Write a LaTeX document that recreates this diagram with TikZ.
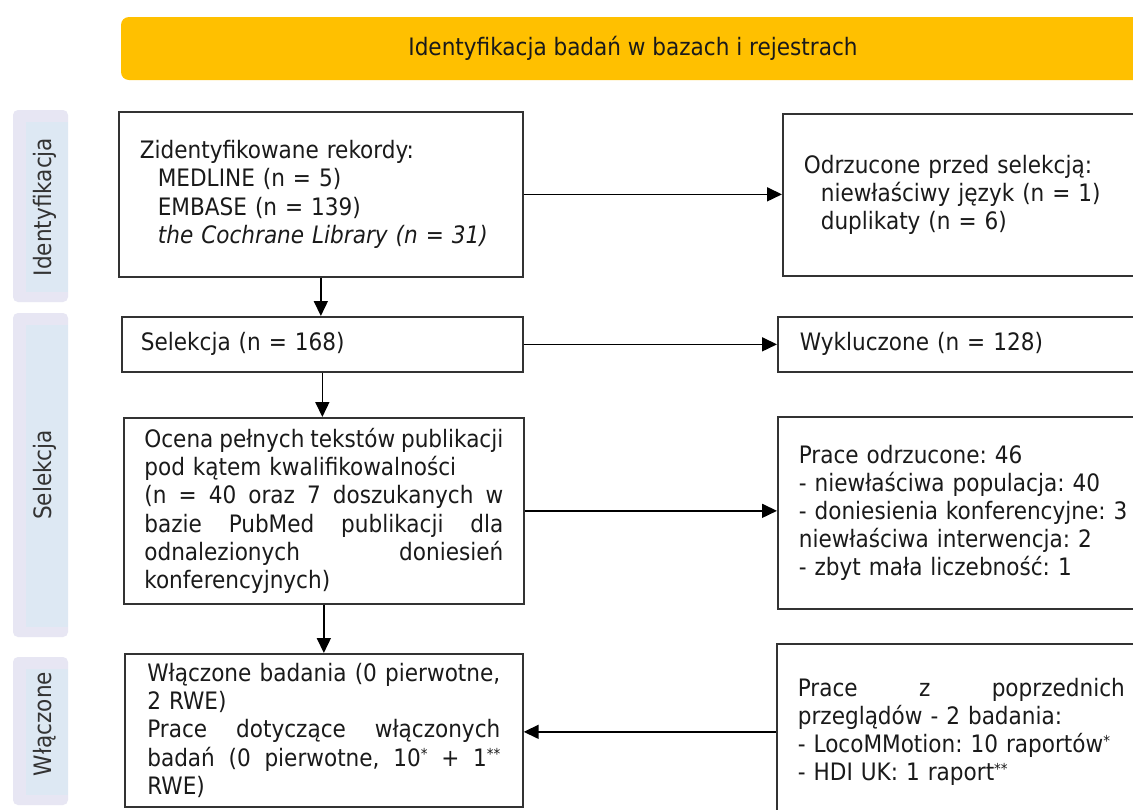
\documentclass[tikz,border=0pt]{standalone}
\usepackage{fontspec}
\setmainfont{DejaVu Sans Condensed}[ItalicFont={DejaVu Sans Condensed Oblique},BoldFont={DejaVu Sans Condensed Bold}]
\usetikzlibrary{arrows.meta}
\definecolor{hdrc}{HTML}{FFC000}
\definecolor{lavc}{HTML}{E7E6F3}
\definecolor{lblue}{HTML}{DDE8F3}
\definecolor{boxc}{HTML}{333333}
\definecolor{txtc}{HTML}{1A1A1A}
\definecolor{labtxt}{HTML}{333333}
\setlength{\parindent}{0pt}
\frenchspacing
\newcommand\jline[2]{{\spaceskip=0pt\xspaceskip=0pt\makebox[#1][s]{#2}}}
\newcommand\astsmall{\raisebox{6.5pt}{\fontsize{15}{15}\selectfont *}}
\newcommand\bodyfont{\fontsize{24}{28.2}\selectfont}
\tikzset{
  box/.style={draw=boxc, line width=1.7pt, anchor=north west, inner xsep=21pt, inner ysep=0pt,
    align=left, font=\bodyfont, text=txtc, fill=white},
  arr/.style={-{Triangle[length=15pt,width=14pt]}, line width=1.6pt, draw=black},
  hdrbox/.style={fill=hdrc, rounded corners=8pt, minimum width=1024pt, minimum height=63pt,
    inner sep=0pt, font=\bodyfont, text=txtc},
  labtext/.style={rotate=90, font=\bodyfont, text=labtxt, inner sep=0pt},
}
\begin{document}
\begin{tikzpicture}[x=1pt,y=-1pt]
\path[use as bounding box] (0,0) rectangle (1133,809);
\clip (0,0) rectangle (1133,809);
\fill[white] (0,0) rectangle (1133,809);

% header
\node[hdrbox] (hdr) at (633,48.5) {Identyfikacja badań w bazach i rejestrach};

% side labels
\fill[lavc, rounded corners=5pt] (13,110) rectangle (68,302);
\fill[lblue] (26,122) rectangle (68,292);
\node[labtext] (lab1) at (45,207) {Identyfikacja};

\fill[lavc, rounded corners=5pt] (13,313) rectangle (68,637);
\fill[lblue] (26,325) rectangle (68,627);
\node[labtext] (lab2) at (45,475) {Selekcja};

\fill[lavc, rounded corners=5pt] (13,657) rectangle (68,805);
\fill[lblue] (26,669) rectangle (68,795);
\node[labtext] (lab3) at (45,724) {Włączone};

% left column
\node[box, text width=362pt, minimum height=165pt] (b1) at (118,111) {%
Zidentyfikowane rekordy:\\
\hspace*{18pt}MEDLINE (n = 5)\\
\hspace*{18pt}EMBASE (n = 139)\\
\hspace*{18pt}\textit{the Cochrane Library (n = 31)}};

\node[box, inner xsep=19pt, text width=363pt, minimum height=55pt] (sel) at (121,316) {Selekcja (n = 168)};

\node[box, inner xsep=20.5pt, text width=359pt, minimum height=186pt] (oc) at (123,417) {%
\jline{359pt}{Ocena pełnych tekstów publikacji}\\
pod kątem kwalifikowalności\\
\jline{359pt}{(n = 40 oraz 7 doszukanych w}\\
\jline{359pt}{bazie PubMed publikacji dla}\\
\jline{359pt}{odnalezionych doniesień}\\
konferencyjnych)};

\node[box, inner xsep=22.5pt, text width=353pt, minimum height=153pt] (wl) at (124,653) {%
\jline{353pt}{Włączone badania (0 pierwotne,}\\
2 RWE)\\
\jline{353pt}{Prace dotyczące włączonych}\\
\jline{353pt}{badań (0 pierwotne, 10\astsmall{} + 1\astsmall\astsmall}\\
RWE)};

% right column
\node[box, text width=321pt, minimum height=162pt] (r1) at (782,113) {%
Odrzucone przed selekcją:\\
\hspace*{17pt}niewłaściwy język (n = 1)\\
\hspace*{17pt}duplikaty (n = 6)};

\node[box, inner xsep=22pt, text width=324pt, minimum height=55pt] (wyk) at (777,316) {Wykluczone (n = 128)};

\node[box, text width=330pt, minimum height=192pt] (podrz) at (777,416) {%
Prace odrzucone: 46\\
- niewłaściwa populacja: 40\\
- doniesienia konferencyjne: 3\\
niewłaściwa interwencja: 2\\
- zbyt mała liczebność: 1};

\node[box, text width=327pt, minimum height=176pt] (pz) at (776,643) {%
\jline{327pt}{Prace z poprzednich}\\
przeglądów - 2 badania:\\
- LocoMMotion: 10 raportów\astsmall\\
- HDI UK: 1 raport\astsmall\astsmall};

% connectors
\draw[arr] (b1.east) -- (b1.east -| r1.west);
\draw[arr] (b1.south) -- (b1.south |- sel.north);
\draw[arr] (sel.east) -- (sel.east -| wyk.west);
\draw[arr] (sel.south) -- (sel.south |- oc.north);
\draw[arr] (oc.east) -- (oc.east -| podrz.west);
\draw[arr] (oc.south) -- (oc.south |- wl.north);
\draw[arr] (pz.west) -- (pz.west -| wl.east);
\end{tikzpicture}
\end{document}
